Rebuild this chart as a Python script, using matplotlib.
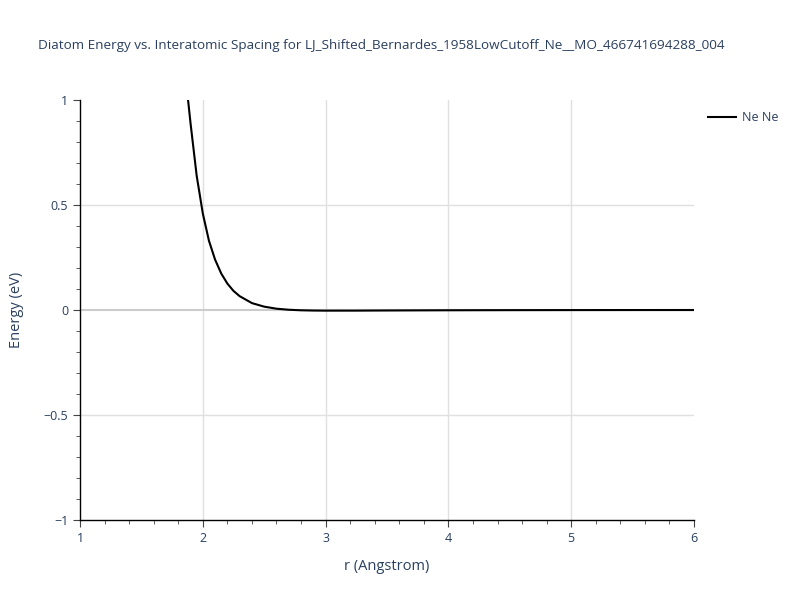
import numpy as np
import matplotlib
matplotlib.use('Agg')
import matplotlib.pyplot as plt
from matplotlib.ticker import MultipleLocator

# values
r_ang = [1.88, 1.90, 1.95, 2.00, 2.05, 2.10, 2.15, 2.20, 2.25, 2.30,
         2.40, 2.50, 2.60, 2.70, 2.80, 2.90, 3.00, 3.25, 3.50, 4.00,
         4.50, 5.00, 5.50, 6.00]
energy_ev = [1.00, 0.89, 0.64, 0.46, 0.33, 0.24, 0.174, 0.126, 0.091, 0.066,
             0.033, 0.016, 0.0063, 0.0013, -0.0013, -0.0025, -0.003, -0.0029, -0.0022, -0.0012,
             -0.0006, -0.0003, -0.0001, 0.0]
series_name = 'Ne Ne'
title = 'Diatom Energy vs. Interatomic Spacing for LJ_Shifted_Bernardes_1958LowCutoff_Ne__MO_466741694288_004'

txt = '#2a3f5f'
plt.rcParams['font.family'] = ['Open Sans', 'DejaVu Sans']

fig = plt.figure(figsize=(8, 6), dpi=100)
ax = fig.add_axes([0.1, 0.1333, 0.7675, 0.7])

ax.plot(r_ang, energy_ev, color='black', lw=1.5, label=series_name, zorder=3)

ax.set_xlim(1, 6)
ax.set_ylim(-1, 1)
ax.xaxis.set_major_locator(MultipleLocator(1))
ax.xaxis.set_minor_locator(MultipleLocator(0.2))
ax.yaxis.set_major_locator(MultipleLocator(0.5))
ax.yaxis.set_minor_locator(MultipleLocator(0.1))
ax.yaxis.set_major_formatter(plt.FuncFormatter(
    lambda v, p: '0' if v == 0 else ('%g' % v).replace('-', '\u2212')))

# interior gridlines only (plotly style), zero line a bit heavier
for xv in ax.get_xticks():
    if 1 < xv < 6:
        ax.axvline(xv, color='#e0e0e0', lw=1, zorder=0)
for yv in ax.get_yticks():
    if -1 < yv < 1 and yv != 0:
        ax.axhline(yv, color='#e0e0e0', lw=1, zorder=0)
ax.axhline(0, color='#cccccc', lw=1.5, zorder=1)

for s in ['top', 'right']:
    ax.spines[s].set_visible(False)
for s in ['left', 'bottom']:
    ax.spines[s].set_color('black')
    ax.spines[s].set_linewidth(1)

ax.tick_params(which='major', direction='out', length=5, color='#444444',
               labelcolor=txt, labelsize=9)
ax.tick_params(which='minor', direction='out', length=3, color='#444444')

ax.set_xlabel('r (Angstrom)', color=txt, fontsize=10.5, labelpad=10)
ax.set_ylabel('Energy (eV)', color=txt, fontsize=10.5, labelpad=14)

fig.text(0.477, 0.925, title, color=txt, fontsize=9.7, ha='center', va='center')

ax.legend(loc='upper left', bbox_to_anchor=(1.005, 1.0), frameon=False,
          handlelength=2.2, handletextpad=0.5, labelcolor=txt, fontsize=9)

fig.savefig('out.png', dpi=100, facecolor='white')
